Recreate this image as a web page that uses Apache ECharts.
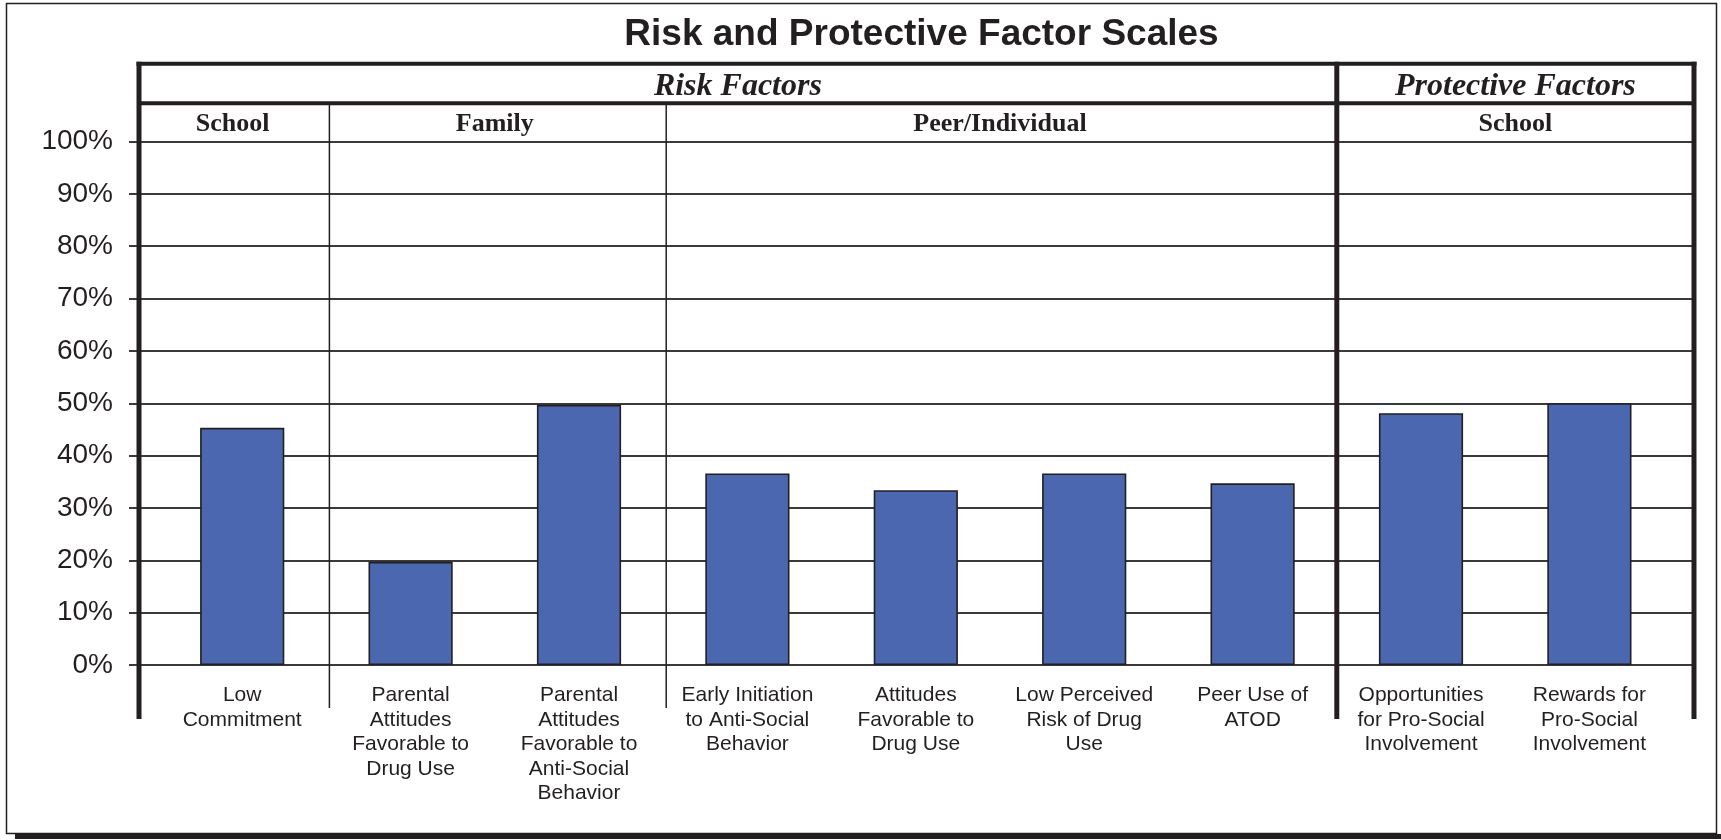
<!DOCTYPE html>
<html>
<head>
<meta charset="utf-8">
<style>
  html, body { margin: 0; padding: 0; background: #ffffff; }
  #chart { width: 1721px; height: 840px; }
</style>
<script src="https://cdn.jsdelivr.net/npm/echarts@6/dist/echarts.min.js"></script>
</head>
<body>
<div id="chart"></div>
<script>
// ---- data ----
const titleText = 'Risk and Protective Factor Scales';
const categories = [
  'Low\nCommitment',
  'Parental\nAttitudes\nFavorable to\nDrug Use',
  'Parental\nAttitudes\nFavorable to\nAnti-Social\nBehavior',
  'Early Initiation\nto Anti-Social\nBehavior',
  'Attitudes\nFavorable to\nDrug Use',
  'Low Perceived\nRisk of Drug\nUse',
  'Peer Use of\nATOD',
  'Opportunities\nfor Pro-Social\nInvolvement',
  'Rewards for\nPro-Social\nInvolvement'
];
const values = [45.3, 19.7, 49.7, 36.6, 33.4, 36.6, 34.7, 48.1, 50.0];
const yMin = 0, yMax = 100, yInterval = 10;
const topGroups = ['Risk Factors', 'Protective Factors'];
const topGroupSpans = [[0, 7], [7, 9]];
const subGroups = ['School', 'Family', 'Peer/Individual', 'School'];
const subGroupSpans = [[0, 1], [1, 3], [3, 7], [7, 9]];

// ---- layout ----
const W = 1721, H = 840;
const frameLeft = 139, frameRight = 1694;
const plotTop = 141.5, plotBottom = 665;
const barLeft = 158, barRight = 1673.6;
const row1Top = 63.7, row2Top = 103.2;
const frameBottom = 719, sepBottom = 708;
const ink = '#231f20';
const gridInk = '#3a3a3a';

const chart = echarts.init(document.getElementById('chart'), null, { renderer: 'canvas' });

const option = {
  backgroundColor: '#ffffff',
  animation: false,
  title: {
    text: titleText,
    left: (frameLeft + frameRight) / 2,
    textAlign: 'center',
    top: 11,
    textStyle: { fontFamily: 'Liberation Sans', fontWeight: 'bold', fontSize: 37, color: ink }
  },
  grid: [
    { left: frameLeft, right: W - frameRight, top: plotTop, bottom: H - plotBottom, containLabel: false },
    { left: barLeft, right: W - barRight, top: plotTop, bottom: H - plotBottom, containLabel: false }
  ],
  xAxis: [
    { gridIndex: 0, type: 'value', min: 0, max: 1, show: false },
    {
      gridIndex: 1, type: 'category', data: categories,
      axisLine: { show: false }, axisTick: { show: false },
      axisLabel: {
        interval: 0, margin: 18, fontFamily: 'Liberation Sans', fontSize: 21, lineHeight: 24.5,
        color: ink, align: 'center', verticalAlign: 'top'
      }
    }
  ],
  yAxis: [
    {
      gridIndex: 0, type: 'value', min: yMin, max: yMax, interval: yInterval,
      axisLine: { show: false },
      axisTick: { show: true, length: 10, lineStyle: { color: gridInk, width: 2 } },
      axisLabel: { formatter: '{value}%', fontFamily: 'Liberation Sans', fontSize: 28, color: ink, margin: 26, padding: [2, 0, 0, 0] },
      splitLine: { show: true, lineStyle: { color: gridInk, width: 2 } }
    },
    { gridIndex: 1, type: 'value', min: yMin, max: yMax, interval: yInterval, show: false, splitLine: { show: false } }
  ],
  series: [{
    type: 'bar', xAxisIndex: 1, yAxisIndex: 1, data: values, barWidth: '50%',
    itemStyle: { color: '#4a67b0', borderColor: '#231f20', borderWidth: 1.6 },
    z: 3
  }]
};
chart.setOption(option);

// ---- header table / frame decorations built from axis positions ----
function boundaryX(k) {
  if (k === 0) return frameLeft;
  if (k === categories.length) return frameRight;
  const a = chart.convertToPixel({ xAxisIndex: 1 }, k - 1);
  const b = chart.convertToPixel({ xAxisIndex: 1 }, k);
  return (a + b) / 2;
}
const g = [];
function line(x1, y1, x2, y2, w, c) {
  g.push({ type: 'line', z: 20, shape: { x1, y1, x2, y2 }, style: { stroke: c || ink, lineWidth: w } });
}
function text(x, y, t, font) {
  g.push({ type: 'text', z: 21, x, y, style: { text: t, font, fill: ink, align: 'center', verticalAlign: 'middle', textAlign: 'center', textVerticalAlign: 'middle' } });
}
// outer border with shadow
g.push({ type: 'rect', z: 1, shape: { x: 6.5, y: 3.5, width: 1710, height: 830 }, style: { fill: 'none', stroke: ink, lineWidth: 1.5 } });
line(15, 836.5, W, 836.5, 5);
// frame horizontal rules
line(frameLeft - 2.5, row1Top, frameRight + 2.5, row1Top, 4);
line(frameLeft, row2Top, frameRight, row2Top, 4);
// thin separators for sub groups
subGroupSpans.forEach(function (s, i) {
  if (s[0] !== 0 && !topGroupSpans.some(function (t) { return t[0] === s[0]; })) {
    const x = boundaryX(s[0]) + 3;
    line(x, row2Top, x, sepBottom, 1.5);
  }
});
// thick verticals
const thickXs = [frameLeft, frameRight];
topGroupSpans.forEach(function (t) { if (t[0] !== 0) thickXs.push(boundaryX(t[0])); });
thickXs.forEach(function (x) { line(x, row1Top - 2, x, frameBottom, 5); });
// header texts
topGroupSpans.forEach(function (t, i) {
  text((boundaryX(t[0]) + boundaryX(t[1])) / 2, (row1Top + row2Top) / 2 + 3, topGroups[i], 'italic bold 32px "Liberation Serif"');
});
subGroupSpans.forEach(function (s, i) {
  text((boundaryX(s[0]) + boundaryX(s[1])) / 2, (row2Top + plotTop) / 2 + 2, subGroups[i], 'bold 26px "Liberation Serif"');
});
chart.setOption({ graphic: g });
</script>
</body>
</html>
